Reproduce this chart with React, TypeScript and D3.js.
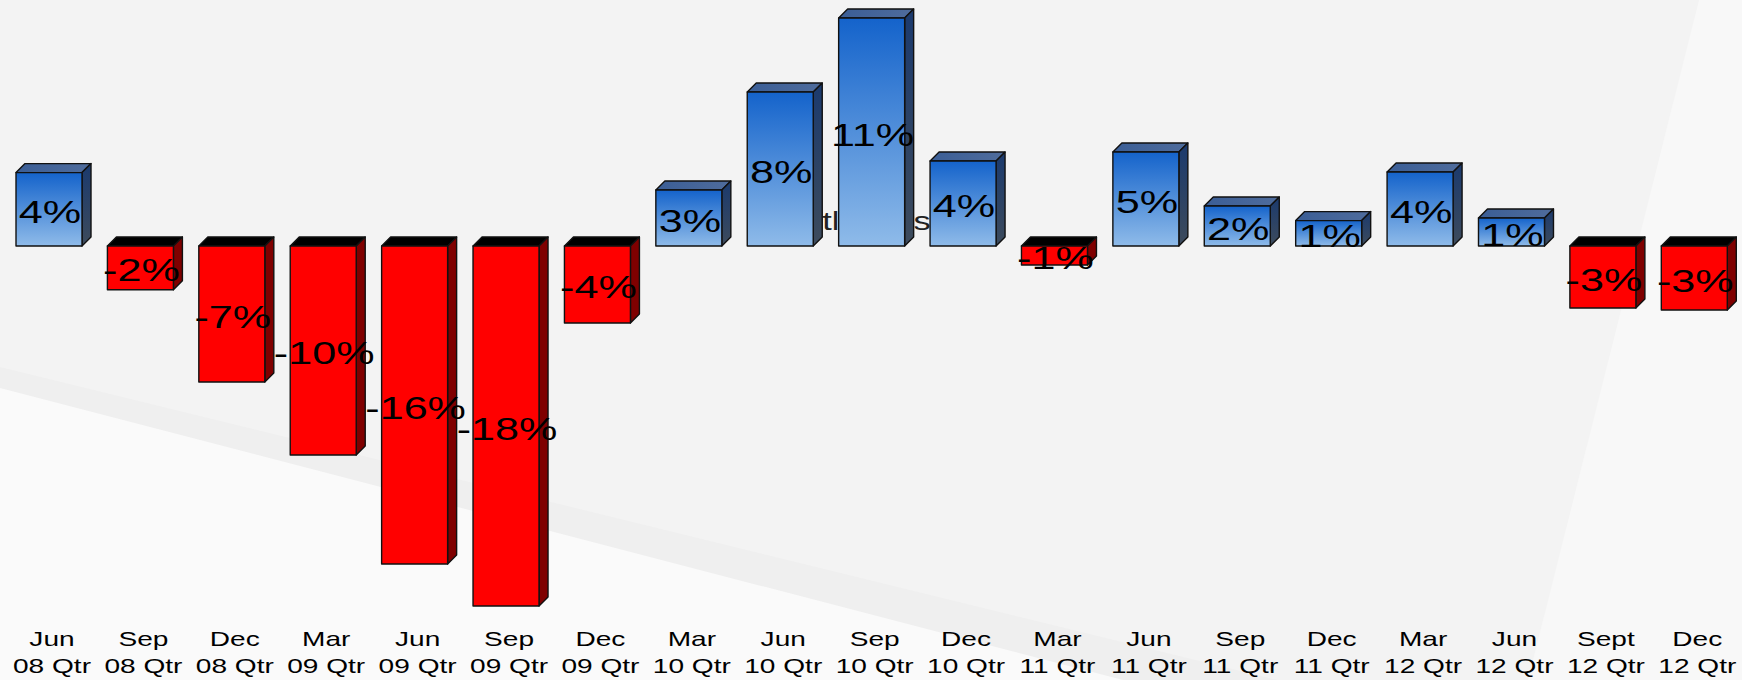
import * as d3 from "d3";
import React from "react";

// quarterly returns, in percent
const months = ["Jun", "Sep", "Dec", "Mar", "Jun", "Sep", "Dec", "Mar", "Jun", "Sep", "Dec", "Mar", "Jun", "Sep", "Dec", "Mar", "Jun", "Sept", "Dec"];
const years = ["08 Qtr", "08 Qtr", "08 Qtr", "09 Qtr", "09 Qtr", "09 Qtr", "09 Qtr", "10 Qtr", "10 Qtr", "10 Qtr", "10 Qtr", "11 Qtr", "11 Qtr", "11 Qtr", "11 Qtr", "12 Qtr", "12 Qtr", "12 Qtr", "12 Qtr"];
const returns = [3.67, -2.19, -6.8, -10.45, -15.9, -18.0, -3.85, 2.8, 7.7, 11.4, 4.25, -0.95, 4.7, 2.0, 1.27, 3.7, 1.4, -3.1, -3.2];

const W = 1742;
const H = 680;
const DEPTH = 9;
const FONT = "'Liberation Sans', Arial, Helvetica, sans-serif";
const STRETCH = 1.37;

const App = () => {
  const keys = months.map((m, i) => `${m} ${years[i]} ${i}`);

  const x = d3.scaleBand<string>()
    .domain(keys)
    .range([3.3, 1740])
    .paddingInner(0.278)
    .paddingOuter(0.139);

  const y = d3.scaleLinear()
    .domain([-18, 12])
    .range([606, 6]);

  const bw = x.bandwidth();
  const y0 = y(0);

  const lbl = (v: number) => `${Math.round(v)}%`;

  return (
    <svg width={W} height={H} style={{ position: "absolute", left: 0, top: 0 }}>
      <defs>
        <linearGradient id="blueFront" x1="0" y1="0" x2="0" y2="1">
          <stop offset="0" stopColor="#1463cb" />
          <stop offset="1" stopColor="#8fbbe9" />
        </linearGradient>
        <linearGradient id="blueSide" x1="0" y1="0" x2="0" y2="1">
          <stop offset="0" stopColor="#1b3a6e" />
          <stop offset="1" stopColor="#3d4b5c" />
        </linearGradient>
        <linearGradient id="blueTop" x1="0" y1="0" x2="1" y2="0">
          <stop offset="0" stopColor="#3b5e96" />
          <stop offset="1" stopColor="#4f6c9c" />
        </linearGradient>
      </defs>

      {/* background */}
      <rect x={0} y={0} width={W} height={H} fill="#f3f3f3" />
      <polygon points={`0,367 ${W},${367 + 0.245 * W} ${W},${H} 0,${H}`} fill="#efefef" />
      <polygon points={`0,388 ${W},${388 + 0.26 * W} ${W},${H} 0,${H}`} fill="#fafafa" />
      <polygon points={`1699,0 ${W},0 ${W},${H} 1528,${H}`} fill="#f8f8f8" />

      {/* title hidden behind the bars */}
      <text x={0} y={0} transform={`translate(795,230) scale(${STRETCH},1)`}
        fontFamily={FONT} fontSize={25} fill="#222">Title Axis</text>

      {returns.map((v, i) => {
        const x0 = x(keys[i]) as number;
        const x1 = x0 + bw;
        const top = Math.min(y(v), y0);
        const bot = Math.max(y(v), y0);
        const pos = v >= 0;
        return (
          <g key={i} stroke="#111" strokeWidth={1.4} strokeLinejoin="round">
            <polygon
              points={`${x0},${top} ${x0 + DEPTH},${top - DEPTH} ${x1 + DEPTH},${top - DEPTH} ${x1},${top}`}
              fill={pos ? "url(#blueTop)" : "#000"} />
            <polygon
              points={`${x1},${top} ${x1 + DEPTH},${top - DEPTH} ${x1 + DEPTH},${bot - DEPTH} ${x1},${bot}`}
              fill={pos ? "url(#blueSide)" : "#7f0000"} />
            <rect x={x0} y={top} width={bw} height={bot - top}
              fill={pos ? "url(#blueFront)" : "#ff0000"} />
          </g>
        );
      })}

      {returns.map((v, i) => {
        const cx = (x(keys[i]) as number) + bw / 2 + 1;
        const mid = (y(v) + y0) / 2;
        return (
          <text key={i} x={0} y={0} transform={`translate(${cx},${mid + 13.5}) scale(${STRETCH},1)`}
            textAnchor="middle" fontFamily={FONT} fontSize={31.5} fill="#000">{lbl(v)}</text>
        );
      })}

      {keys.map((k, i) => {
        const cx = (x(k) as number) + bw / 2 + 3;
        return (
          <g key={k} transform={`translate(${cx},0)`}>
            <text x={0} y={0} transform={`translate(0,646) scale(${STRETCH},1)`}
              textAnchor="middle" fontFamily={FONT} fontSize={20.5} fill="#000">{months[i]}</text>
            <text x={0} y={0} transform={`translate(0,673) scale(${STRETCH},1)`}
              textAnchor="middle" fontFamily={FONT} fontSize={20.5} fill="#000">{years[i]}</text>
          </g>
        );
      })}
    </svg>
  );
};

export default App;
